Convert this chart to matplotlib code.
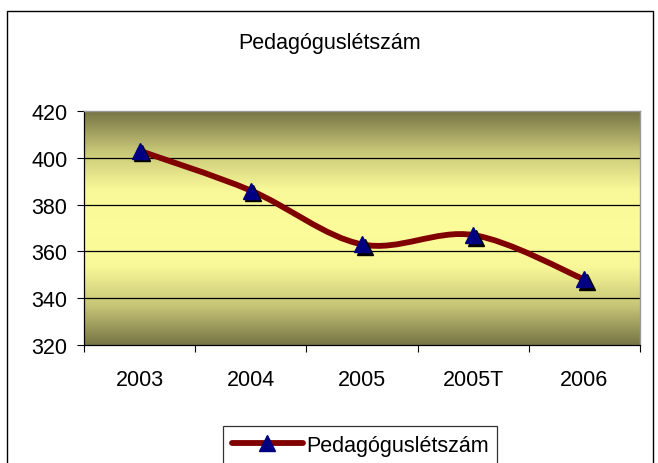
import matplotlib
matplotlib.use("Agg")
import matplotlib.pyplot as plt
import matplotlib.transforms as mtransforms
import numpy as np
from matplotlib.colors import LinearSegmentedColormap
from matplotlib.lines import Line2D
from matplotlib.patches import PathPatch, Rectangle
from matplotlib.path import Path

plt.rcParams["font.family"] = ["Liberation Sans", "DejaVu Sans"]

categories = ["2003", "2004", "2005", "2005T", "2006"]
values = [403, 386, 363, 367, 348]
title = "Pedagóguslétszám"
series_name = "Pedagóguslétszám"

LINE_COLOR = "#800000"
MARKER_COLOR = "#000080"
FS = 15.5


def smooth_path(xs, ys):
    # Excel-style smoothed line: cubic Bezier segments (Catmull-Rom controls)
    pts = np.column_stack([xs, ys]).astype(float)
    n = len(pts)
    verts = [pts[0]]
    codes = [Path.MOVETO]
    for i in range(n - 1):
        p0 = pts[i - 1] if i > 0 else pts[i]
        p1 = pts[i]
        p2 = pts[i + 1]
        p3 = pts[i + 2] if i + 2 < n else pts[i + 1]
        c1 = p1 + (p2 - p0) / 6.0
        c2 = p2 - (p3 - p1) / 6.0
        verts += [c1, c2, p2]
        codes += [Path.CURVE4] * 3
    return Path(verts, codes)


fig = plt.figure(figsize=(6.58, 4.64), dpi=100)
ax = fig.add_axes([84 / 658, 1 - 346 / 464, (640 - 84) / 658, (346 - 112) / 464])

# gradient plot area background
cmap = LinearSegmentedColormap.from_list(
    "olive", ["#777545", "#c6c576", "#f8f898", "#fcfc9a", "#f8f898", "#c6c576", "#777545"]
)
grad = np.linspace(0, 1, 256).reshape(-1, 1)
ax.imshow(grad, cmap=cmap, aspect="auto", extent=[0, 1, 0, 1],
          transform=ax.transAxes, zorder=0)

x = np.arange(len(categories))
ax.set_xlim(-0.5, len(categories) - 0.5)
ax.set_ylim(320, 420)
ax.set_yticks(np.arange(320, 421, 20))
ax.set_xticks(np.arange(-0.5, len(categories), 1.0), minor=False)
ax.set_xticklabels([])
ax.set_xticks(x, minor=True)
ax.set_xticklabels(categories, minor=True)
ax.tick_params(axis="x", which="minor", length=0, pad=17, labelsize=FS)
ax.tick_params(axis="x", which="major", direction="out", length=5, width=0.8)
ax.tick_params(axis="y", direction="out", length=5, width=0.8, labelsize=FS, pad=7)

for yv in np.arange(340, 420, 20):
    ax.axhline(yv, color="black", linewidth=0.9, zorder=1)

for side in ["top", "right"]:
    ax.spines[side].set_color("#999999")
    ax.spines[side].set_linewidth(1.0)
for side in ["left", "bottom"]:
    ax.spines[side].set_color("black")
    ax.spines[side].set_linewidth(0.9)

ax.add_patch(PathPatch(smooth_path(x, values), facecolor="none",
                       edgecolor=LINE_COLOR, linewidth=4.2, zorder=3,
                       capstyle="round", joinstyle="round"))

shadow = mtransforms.offset_copy(ax.transData, fig=fig, x=2.5, y=-2.5, units="dots")
ax.plot(x, values, linestyle="none", marker="^", markersize=11,
        color="black", transform=shadow, zorder=4)
ax.plot(x, values, linestyle="none", marker="^", markersize=11,
        color=MARKER_COLOR, markeredgecolor=MARKER_COLOR, zorder=5)

fig.text(330 / 658, 1 - 43 / 464, title, ha="center", va="center", fontsize=FS)

handle = Line2D([], [], color=LINE_COLOR, linewidth=4.2, marker="^",
                markersize=11, markerfacecolor=MARKER_COLOR,
                markeredgecolor=MARKER_COLOR, solid_capstyle="round")
leg = fig.legend([handle], [series_name], loc="upper center",
                 bbox_to_anchor=(360 / 658, 1 - 427 / 464), fontsize=FS,
                 frameon=True, fancybox=False, handlelength=3.3,
                 handletextpad=0.15, borderpad=0.4, borderaxespad=0)
leg.get_frame().set_edgecolor("black")
leg.get_frame().set_linewidth(0.9)

fig.patches.append(Rectangle((7 / 658, -0.05), (653 - 7) / 658, 1.05 - 12 / 464,
                             transform=fig.transFigure, fill=False,
                             edgecolor="black", linewidth=1.0))

fig.savefig("out.png", dpi=100)
